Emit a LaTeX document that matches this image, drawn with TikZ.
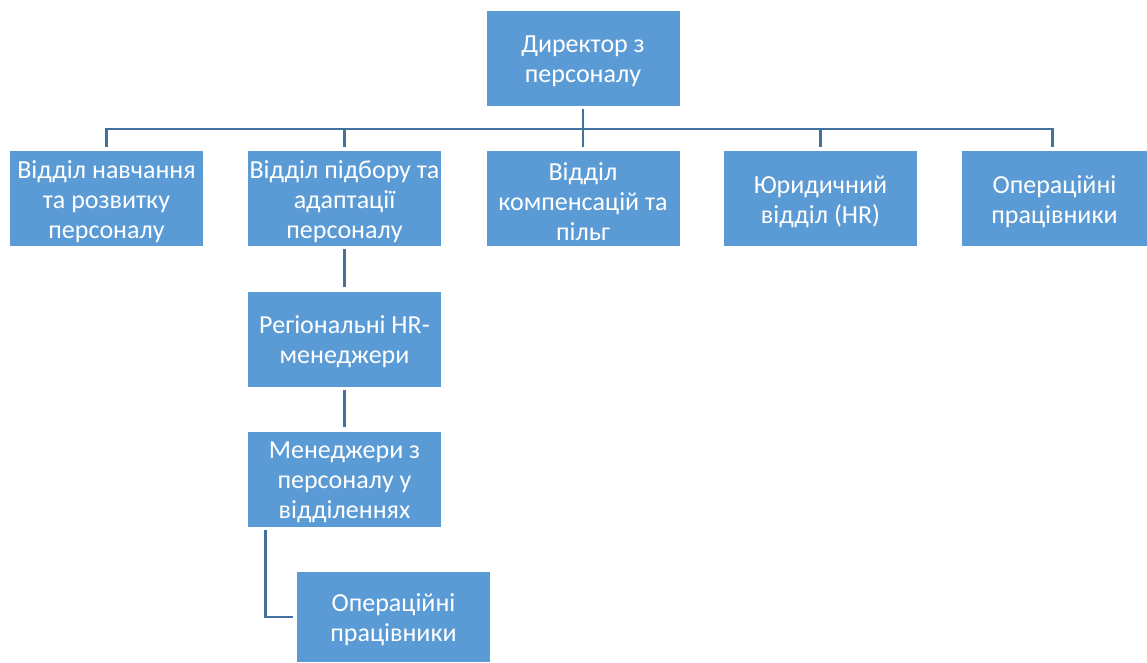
\documentclass[tikz,border=0pt]{standalone}
\usepackage{fontspec}
\setmainfont{Carlito}
\definecolor{boxfill}{HTML}{5B9BD5}
\definecolor{linec}{HTML}{41719C}
\tikzset{
  orgbox/.style={fill=boxfill, draw=none,
    minimum width=193pt, minimum height=95pt, inner sep=0pt},
  boxtext/.style={text=white, align=center, inner sep=0pt, yshift=-3pt,
    font=\fontsize{26}{30}\selectfont},
  conn/.style={draw=linec, line width=2.8pt, shorten <=3pt, shorten >=4pt}
}
\begin{document}
\begin{tikzpicture}[x=1pt,y=-1pt]
\useasboundingbox (0,0) rectangle (1147,662);
\node[orgbox, label={[boxtext]center:{Директор з\\персоналу}}] (dir) at (583,58.5) {};
\node[orgbox, label={[boxtext]center:{Відділ навчання\\та розвитку\\персоналу}}] (b1) at (106.5,198.5) {};
\node[orgbox, label={[boxtext]center:{Відділ підбору та\\адаптації\\персоналу}}] (b2) at (344.5,198.5) {};
\node[orgbox, label={[boxtext]center:{Відділ\\компенсацій та\\пільг}}] (b3) at (583,198.5) {};
\node[orgbox, label={[boxtext]center:{Юридичний\\відділ (HR)}}] (b4) at (820.5,198.5) {};
\node[orgbox, minimum width=185pt, label={[boxtext]center:{Операційні\\працівники}}] (b5) at (1054.5,198.5) {};
\node[orgbox, label={[boxtext]center:{Регіональні HR-\\менеджери}}] (reg) at (344.5,339) {};
\node[orgbox, label={[boxtext]center:{Менеджери з\\персоналу у\\відділеннях}}] (mgr) at (344.5,479) {};
\node[orgbox, minimum height=90pt, label={[boxtext]center:{Операційні\\працівники}}] (op) at (393.5,617) {};
\coordinate (bus) at (0,129);
\draw[conn] (dir.south) -- (dir.south |- bus) -| (b1.north);
\draw[conn] (dir.south) -- (dir.south |- bus) -| (b2.north);
\draw[conn] (dir.south) -- (b3.north);
\draw[conn] (dir.south) -- (dir.south |- bus) -| (b4.north);
\draw[conn] (dir.south) -- (dir.south |- bus) -| ([xshift=-2pt]b5.north);
\draw[conn] (b2.south) -- (reg.north);
\draw[conn] (reg.south) -- (mgr.north);
\draw[conn] ([xshift=18pt]mgr.south west) |- (op.west);
\end{tikzpicture}
\end{document}
